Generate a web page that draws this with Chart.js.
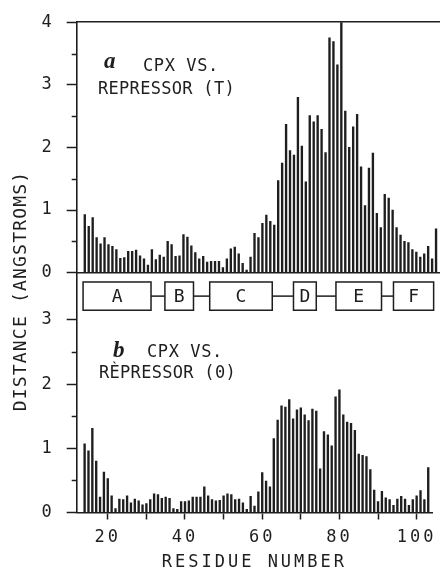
<!DOCTYPE html>
<html>
<head>
<meta charset="utf-8">
<script src="https://cdn.jsdelivr.net/npm/chart.js@4.4.0/dist/chart.umd.min.js"></script>
<style>
  html, body { margin: 0; padding: 0; background: #fff; }
  #wrap { position: relative; width: 440px; height: 571px; overflow: hidden; background: #fff; }
  canvas { position: absolute; left: 0; top: 0; }
</style>
</head>
<body>
<div id="wrap">
  <canvas id="chartT" width="440" height="571"></canvas>
  <canvas id="chartO" width="440" height="571"></canvas>
</div>
<script>
// residue numbers (one bar each)
const residues = [
  14, 15, 16, 17, 18, 19, 20, 21, 22, 23,
  24, 25, 26, 27, 28, 29, 30, 31, 32, 33,
  34, 35, 36, 37, 38, 39, 40, 41, 42, 43,
  44, 45, 46, 47, 48, 49, 50, 51, 52, 53,
  54, 55, 56, 57, 58, 59, 60, 61, 62, 63,
  64, 65, 66, 67, 68, 69, 70, 71, 72, 73,
  74, 75, 76, 77, 78, 79, 80, 81, 82, 83,
  84, 85, 86, 87, 88, 89, 90, 91, 92, 93,
  94, 95, 96, 97, 98, 99, 100, 101, 102, 103
];

// a: CPX vs. repressor (T)
const distT = [
  0.93, 0.74, 0.88, 0.56, 0.46, 0.56, 0.45, 0.42, 0.37, 0.23,
  0.24, 0.34, 0.34, 0.36, 0.27, 0.22, 0.12, 0.37, 0.21, 0.28,
  0.25, 0.50, 0.45, 0.26, 0.27, 0.61, 0.57, 0.43, 0.32, 0.22,
  0.26, 0.17, 0.18, 0.18, 0.18, 0.08, 0.22, 0.38, 0.41, 0.30,
  0.15, 0.04, 0.25, 0.63, 0.56, 0.79, 0.92, 0.82, 0.76, 1.47,
  1.75, 2.37, 1.95, 1.88, 2.80, 2.02, 1.45, 2.51, 2.41, 2.51,
  2.29, 1.92, 3.75, 3.69, 3.32, 4.30, 2.58, 2.00, 2.33, 2.53,
  1.69, 1.07, 1.67, 1.91, 0.95, 0.72, 1.25, 1.19, 1.00, 0.72,
  0.60, 0.50, 0.48, 0.37, 0.33, 0.25, 0.30, 0.42, 0.22, 0.70
];

// b: CPX vs. repressor (O)
const distO = [
  1.07, 0.96, 1.31, 0.80, 0.24, 0.63, 0.53, 0.26, 0.06, 0.21,
  0.20, 0.26, 0.15, 0.21, 0.18, 0.12, 0.14, 0.20, 0.29, 0.28,
  0.22, 0.24, 0.22, 0.06, 0.05, 0.17, 0.17, 0.18, 0.24, 0.24,
  0.24, 0.40, 0.26, 0.20, 0.18, 0.19, 0.26, 0.29, 0.28, 0.20,
  0.21, 0.15, 0.05, 0.25, 0.10, 0.32, 0.62, 0.49, 0.40, 1.15,
  1.44, 1.66, 1.64, 1.76, 1.46, 1.60, 1.63, 1.52, 1.43, 1.61,
  1.58, 0.68, 1.26, 1.21, 1.04, 1.80, 1.91, 1.52, 1.41, 1.39,
  1.28, 0.91, 0.89, 0.87, 0.67, 0.35, 0.17, 0.33, 0.23, 0.20,
  0.11, 0.21, 0.25, 0.21, 0.11, 0.20, 0.26, 0.34, 0.20, 0.70
];

const xTicks = [20, 30, 40, 50, 60, 70, 80, 90, 100];
const yTicksTop = [0, 1, 2, 3, 4];
const yMinorTop = [0.5, 1.5, 2.5, 3.5];
const yTicksBottom = [0, 1, 2, 3];
const yMinorBottom = [0.5, 1.5, 2.5];

// secondary structure (helices)
const helixNames = ['A', 'B', 'C', 'D', 'E', 'F'];
const helixStart = [13.6, 34.8, 46.4, 68.1, 79.1, 94.0];
const helixEnd = [31.2, 42.2, 62.6, 74.0, 90.9, 104.4];

const INK = '#1e1e1e';
const MONO = '"DejaVu Sans Mono", monospace';
const X_MIN = 11.95, X_MAX = 104;
const AXIS_LEFT = 76.7;

Chart.defaults.font.family = MONO;
Chart.defaults.color = INK;

// spacing like the old plotter lettering
const spacing = {
  id: 'spacing',
  beforeDraw(chart, args, opts) {
    chart.ctx.letterSpacing = (opts.px || 0) + 'px';
  }
};

// short ticks at the half units
const minorTicks = {
  id: 'minorTicks',
  afterDraw(chart, args, opts) {
    const ys = chart.scales.y, ctx = chart.ctx, left = chart.chartArea.left;
    ctx.save();
    ctx.strokeStyle = INK;
    ctx.lineWidth = 1.5;
    (opts.values || []).forEach(v => {
      const py = Math.round(ys.getPixelForValue(v)) + 0.5;
      ctx.beginPath();
      ctx.moveTo(left - 5, py);
      ctx.lineTo(left, py);
      ctx.stroke();
    });
    ctx.restore();
  }
};

function drawText(ctx, txt, x, y, font, sp) {
  ctx.font = font;
  ctx.letterSpacing = sp + 'px';
  ctx.fillText(txt, x, y);
}

const labels = {
  id: 'labels',
  afterDraw(chart, args, opts) {
    const ctx = chart.ctx;
    ctx.save();
    ctx.fillStyle = INK;
    ctx.textAlign = 'left';
    ctx.textBaseline = 'alphabetic';
    (opts.items || []).forEach(t => drawText(ctx, t.text, t.x, t.y, t.font, t.sp));
    if (opts.yTitle) {
      ctx.save();
      ctx.translate(21, 291);
      ctx.rotate(-Math.PI / 2);
      ctx.textAlign = 'center';
      ctx.textBaseline = 'middle';
      drawText(ctx, opts.yTitle, 0, 0, '18px ' + MONO, 1.2);
      ctx.restore();
    }
    ctx.restore();
  }
};

// helix boxes between the two panels
const helices = {
  id: 'helices',
  afterDraw(chart) {
    const ctx = chart.ctx, xs = chart.scales.x, ys = chart.scales.y;
    const top = ys.getPixelForValue(3.59), bot = ys.getPixelForValue(3.15);
    const mid = ys.getPixelForValue(3.37);
    ctx.save();
    ctx.strokeStyle = INK;
    ctx.fillStyle = INK;
    ctx.lineWidth = 1.5;
    ctx.font = '18px ' + MONO;
    ctx.letterSpacing = '0px';
    ctx.textAlign = 'center';
    ctx.textBaseline = 'middle';
    helixNames.forEach((name, i) => {
      const x0 = xs.getPixelForValue(helixStart[i]);
      const x1 = xs.getPixelForValue(helixEnd[i]);
      ctx.strokeRect(x0, top, x1 - x0, bot - top);
      ctx.fillText(name, (x0 + Math.min(x1, 440)) / 2, (top + bot) / 2 + 1);
      if (i < helixNames.length - 1) {
        const xn = xs.getPixelForValue(helixStart[i + 1]);
        ctx.beginPath();
        ctx.moveTo(x1, mid);
        ctx.lineTo(xn, mid);
        ctx.stroke();
      }
    });
    ctx.restore();
  }
};

function barData(values) {
  return residues.map((r, i) => ({ x: r, y: values[i] }));
}

function yScale(max, ticks) {
  return {
    type: 'linear',
    min: 0,
    max: max,
    afterBuildTicks: s => { s.ticks = ticks.map(v => ({ value: v })); },
    afterFit: s => { s.width = AXIS_LEFT; },
    ticks: { padding: 12, font: { size: 17 }, color: INK },
    grid: { drawOnChartArea: false, tickLength: 10, tickColor: INK, tickWidth: 1.5 },
    border: { color: INK, width: 1.6 }
  };
}

function bareX(pos) {
  return {
    type: 'linear',
    position: pos,
    min: X_MIN,
    max: X_MAX,
    offset: false,
    ticks: { display: false },
    grid: { display: false, offset: false },
    border: { color: INK, width: 1.6 },
    afterFit: s => { s.height = 0; }
  };
}

const barStyle = {
  backgroundColor: INK,
  borderWidth: 0,
  barThickness: 1.7,
  clip: 0
};

new Chart(document.getElementById('chartT'), {
  type: 'bar',
  data: {
    datasets: [Object.assign({ label: 'CPX vs. repressor (T)', data: barData(distT) }, barStyle)]
  },
  options: {
    responsive: false,
    animation: false,
    layout: { padding: { left: 0, right: 0, top: 18.3, bottom: 571 - 272.7 } },
    scales: {
      x: bareX('bottom'),
      xTop: bareX('top'),
      y: yScale(4, yTicksTop)
    },
    plugins: {
      legend: { display: false },
      tooltip: { enabled: false },
      spacing: { px: 3 },
      minorTicks: { values: yMinorTop },
      labels: {
        items: [
          { text: 'a', x: 104, y: 68, font: 'bold italic 23px "Liberation Serif"', sp: 0 },
          { text: 'CPX VS.', x: 143, y: 71, font: '17px ' + MONO, sp: 0.6 },
          { text: 'REPRESSOR (T)', x: 98, y: 93.5, font: '17px ' + MONO, sp: 0.3 }
        ]
      }
    }
  },
  plugins: [spacing, minorTicks, labels]
});

const xBottom = {
  type: 'linear',
  position: 'bottom',
  min: X_MIN,
  max: X_MAX,
  offset: false,
  afterBuildTicks: s => { s.ticks = xTicks.map(v => ({ value: v })); },
  afterFit: s => { s.height = 571 - 512.5; },
  ticks: {
    autoSkip: false,
    maxRotation: 0,
    padding: 8,
    font: { size: 17 },
    color: INK,
    callback: v => (v % 20 === 0 ? String(v) : '')
  },
  grid: { drawOnChartArea: false, offset: false, tickLength: 7, tickColor: INK, tickWidth: 1.5 },
  border: { color: INK, width: 1.6 },
  title: {
    display: true,
    text: 'RESIDUE NUMBER',
    color: INK,
    font: { size: 17, lineHeight: 1 },
    padding: { top: 0, bottom: 0 }
  }
};

new Chart(document.getElementById('chartO'), {
  type: 'bar',
  data: {
    datasets: [Object.assign({ label: 'CPX vs. repressor (O)', data: barData(distO) }, barStyle)]
  },
  options: {
    responsive: false,
    animation: false,
    layout: { padding: { left: 0, right: 0, top: 273, bottom: 0 } },
    scales: {
      x: xBottom,
      y: yScale(3.73, yTicksBottom)
    },
    plugins: {
      legend: { display: false },
      tooltip: { enabled: false },
      spacing: { px: 3 },
      minorTicks: { values: yMinorBottom },
      labels: {
        yTitle: 'DISTANCE (ANGSTROMS)',
        items: [
          { text: 'b', x: 113, y: 357, font: 'bold italic 23px "Liberation Serif"', sp: 0 },
          { text: 'CPX VS.', x: 147, y: 357, font: '17px ' + MONO, sp: 0.6 },
          { text: 'RÈPRESSOR (0)', x: 99, y: 378, font: '17px ' + MONO, sp: 0.3 }
        ]
      }
    }
  },
  plugins: [spacing, minorTicks, labels, helices]
});
</script>
</body>
</html>
